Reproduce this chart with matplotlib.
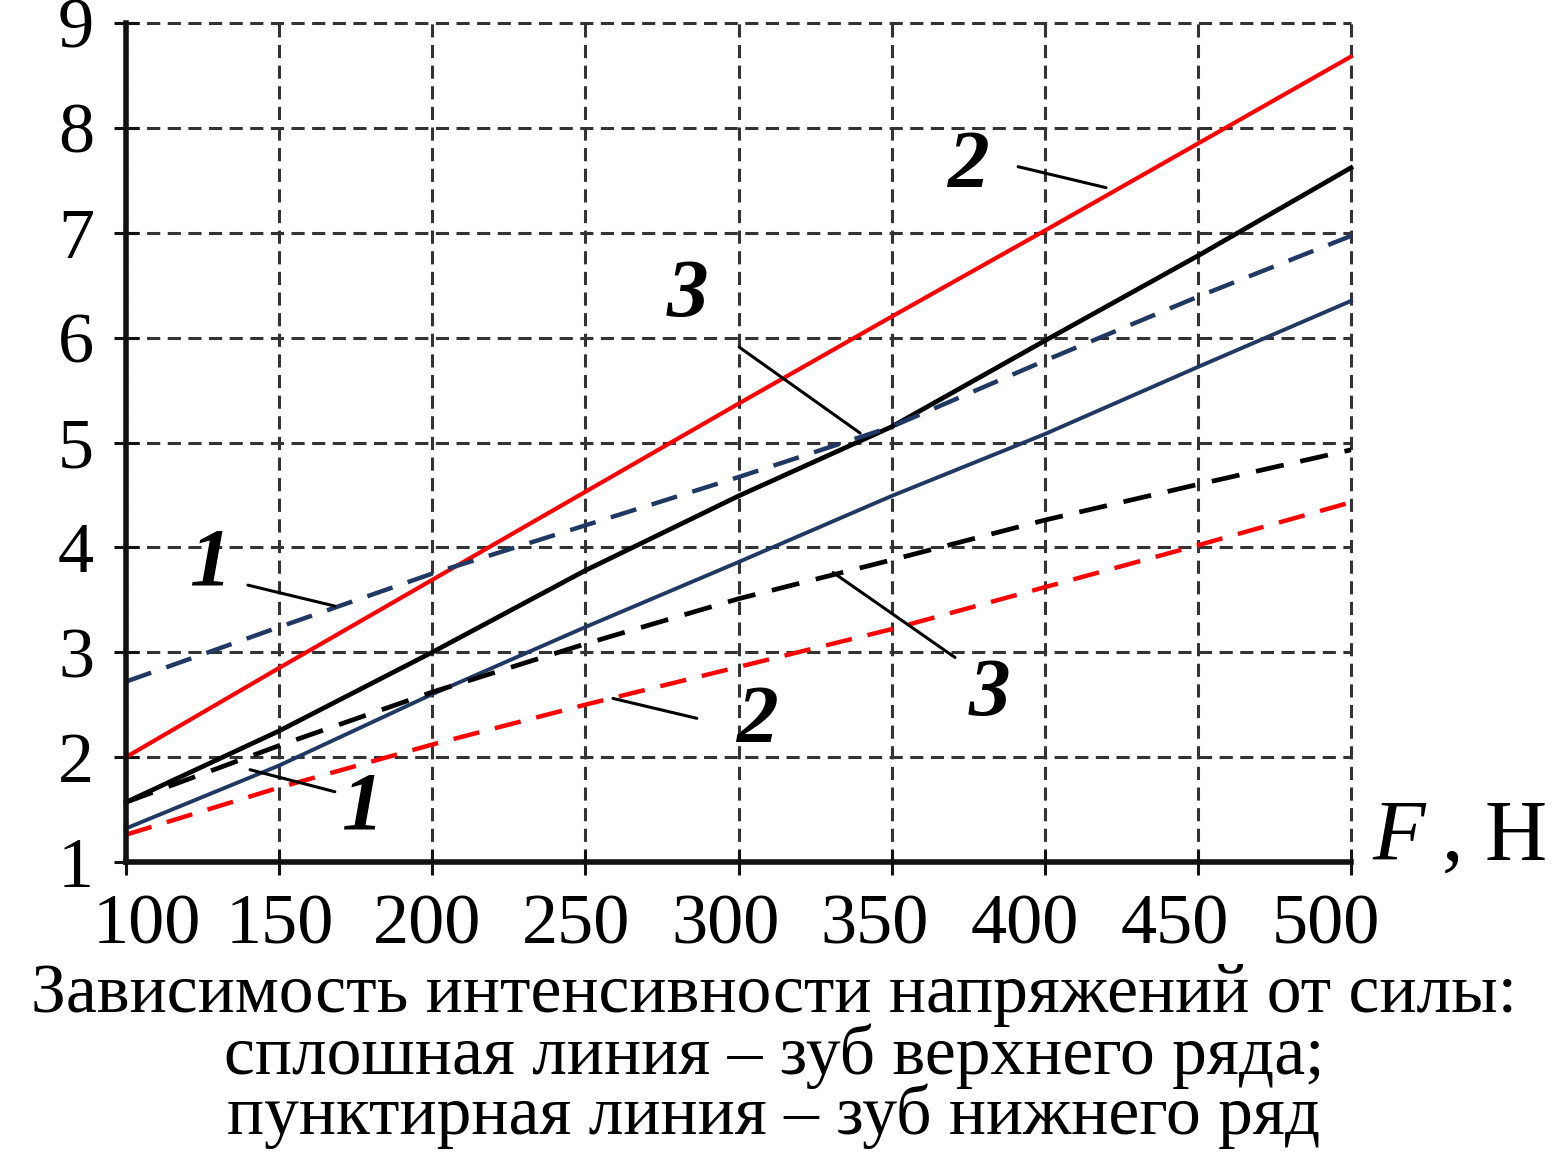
import matplotlib
matplotlib.use("Agg")
import matplotlib.pyplot as plt
from matplotlib.transforms import ScaledTranslation

# Force F, N
force = [100, 150, 200, 250, 300, 350, 400, 450, 500]

# Stress intensity, upper-row tooth (solid lines)
upper_1 = [1.32, 1.92, 2.60, 3.24, 3.86, 4.49, 5.08, 5.72, 6.35]
upper_2 = [2.00, 2.85, 3.69, 4.53, 5.37, 6.20, 7.02, 7.85, 8.68]
upper_3 = [1.57, 2.25, 3.00, 3.78, 4.49, 5.15, 5.97, 6.78, 7.62]

# Stress intensity, lower-row tooth (dashed lines)
lower_1 = [2.72, 3.24, 3.75, 4.21, 4.67, 5.15, 5.78, 6.39, 6.97]
lower_2 = [1.26, 1.71, 2.12, 2.50, 2.86, 3.22, 3.62, 4.02, 4.43]
lower_3 = [1.57, 2.11, 2.62, 3.08, 3.51, 3.88, 4.26, 4.60, 4.93]

x_ticks = [100, 150, 200, 250, 300, 350, 400, 450, 500]
y_ticks = [1, 2, 3, 4, 5, 6, 7, 8, 9]

caption = [
    "Зависимость интенсивности напряжений от силы:",
    "сплошная линия – зуб верхнего ряда;",
    "пунктирная линия – зуб нижнего ряд",
]

SERIF = "Liberation Serif"
RED = "#ff0000"
BLUE = "#1f3864"
BLACK = "#000000"
GRID = "#333333"

fig = plt.figure(figsize=(15.52, 11.52), dpi=100)
W, H = 1552, 1152
ax = fig.add_axes([126 / W, 1 - 862 / H, (1351 - 126) / W, (862 - 23) / H])

ax.set_xlim(100, 500)
ax.set_ylim(1, 9)

# dashed grid, including the lines along the right and top limits
ax.set_xticks(x_ticks)
ax.set_yticks(y_ticks)
ax.grid(True, color=GRID, lw=2.2, linestyle=(0, (4.3, 2.45)))
for gl in ax.get_xgridlines() + ax.get_ygridlines():
    gl.set_clip_on(False)

for s in ("top", "right"):
    ax.spines[s].set_visible(False)
for s in ("left", "bottom"):
    ax.spines[s].set_linewidth(4)
    ax.spines[s].set_color("#111111")
    ax.spines[s].set_zorder(5)

ax.tick_params(direction="inout", length=18, width=2.2, color="#111111",
               labelsize=52, pad=14)
ax.set_xticklabels([str(v) for v in x_ticks], fontfamily=SERIF)
ax.set_yticklabels([str(v) for v in y_ticks], fontfamily=SERIF)

# x labels are spread a little more evenly than the ticks themselves
shifts = [21, 1, -5, -9.5, -13, -17, -20, -23, -25]
for lab, dx in zip(ax.get_xticklabels(), shifts):
    lab.set_transform(lab.get_transform() +
                      ScaledTranslation(dx / 100, 0, fig.dpi_scale_trans))

dash = (0, (6, 3.6))
ax.plot(force, upper_2, color=RED, lw=3.0, zorder=3, clip_on=False)
ax.plot(force, upper_3, color=BLACK, lw=3.4, zorder=3, clip_on=False)
ax.plot(force, upper_1, color=BLUE, lw=2.8, zorder=3, clip_on=False)
ax.plot(force, lower_1, color=BLUE, lw=3.2, ls=dash, zorder=3, clip_on=False)
ax.plot(force, lower_3, color=BLACK, lw=3.4, ls=dash, zorder=3, clip_on=False)
ax.plot(force, lower_2, color=RED, lw=3.2, ls=dash, zorder=3, clip_on=False)

# curve numbers with leader lines
labels = [
    ("2", (375.0, 7.62), (391.3, 7.63), (420.0, 7.43)),
    ("3", (283.5, 6.39), (300.2, 5.91), (339.7, 5.09)),
    ("1", (127.4, 3.83), (139.8, 3.64), (168.2, 3.44)),
    ("1", (177.1, 1.51), (140.5, 1.88), (168.2, 1.67)),
    ("2", (306.0, 2.33), (259.0, 2.56), (286.4, 2.37)),
    ("3", (382.1, 2.59), (330.9, 3.76), (370.7, 2.95)),
]
for txt, pos, p0, p1 in labels:
    ax.annotate("", xy=p1, xytext=p0,
                arrowprops=dict(arrowstyle="-", color=BLACK, lw=2.2,
                                shrinkA=0, shrinkB=0), zorder=6)
    ax.text(pos[0], pos[1], txt, fontfamily=SERIF, fontsize=60,
            fontweight="bold", fontstyle="italic", ha="center", va="center",
            zorder=6)

# axis name to the right of the plot
fig.text(1372 / W, 1 - 860 / H, "F", fontfamily=SERIF, fontsize=62,
         fontstyle="italic", ha="left", va="baseline")
fig.text(1442 / W, 1 - 860 / H, ", Н", fontfamily=SERIF, fontsize=62,
         ha="left", va="baseline")

# caption under the plot
for line, base in zip(caption, [1012, 1074, 1134]):
    fig.text(774 / W, 1 - base / H, line, fontfamily=SERIF, fontsize=50,
             ha="center", va="baseline")

fig.savefig("out.png", dpi=100, facecolor="white")
